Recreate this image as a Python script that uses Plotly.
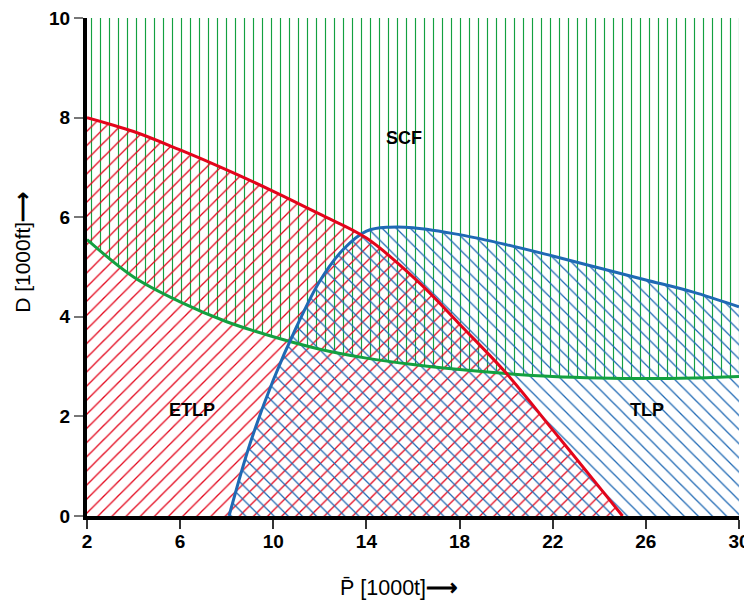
import plotly.graph_objects as go

# ETLP boundary (red)
red_x = [2, 4, 6, 8, 10, 12, 14, 16.3, 18, 20, 22, 24, 25.0]
red_y = [8.0, 7.72, 7.35, 6.95, 6.52, 6.06, 5.58, 4.67, 3.85, 2.87, 1.73, 0.58, 0.0]

# TLP boundary (blue)
blue_x = [8.1, 9, 10, 11, 12, 13, 14, 15, 16, 18, 20, 22, 24, 26, 28, 30]
blue_y = [0.0, 1.45, 2.73, 3.8, 4.72, 5.35, 5.72, 5.8, 5.79, 5.65, 5.45, 5.22, 4.98, 4.74, 4.5, 4.2]

# SCF lower boundary (green)
green_x = [2, 4, 6, 8, 10, 12, 14, 16, 18, 20, 22, 24, 26, 28, 30]
green_y = [5.55, 4.8, 4.3, 3.9, 3.6, 3.35, 3.17, 3.04, 2.94, 2.86, 2.8, 2.77, 2.76, 2.77, 2.8]

top_x = [2, 30]
top_y = [10, 10]

x_ticks = [2, 6, 10, 14, 18, 22, 26, 30]
y_ticks = [0, 2, 4, 6, 8, 10]

labels = ["SCF", "ETLP", "TLP"]
label_x = [15.6, 6.5, 26.05]
label_y = [7.6, 2.13, 2.13]

x_title = "P\u0304 [1000t]<b>\u27f6</b>"
y_title = "D [1000ft]<b>\u27f6</b>"

RED = "#e3051b"
BLUE = "#1f69b4"
GREEN = "#13a040"
CLEAR = "rgba(0,0,0,0)"
FONT = "Liberation Sans, Arial, Helvetica"
SOL = 0.13

fig = go.Figure()

# SCF hatched area (above green)
fig.add_trace(go.Scatter(x=top_x, y=top_y, mode="lines", line=dict(width=0), showlegend=False, hoverinfo="skip"))
fig.add_trace(go.Scatter(x=green_x, y=green_y, mode="lines", line=dict(width=0, shape="spline"),
                         fill="tonexty", fillcolor=CLEAR,
                         fillpattern=dict(shape="|", fgcolor=GREEN, bgcolor=CLEAR, fgopacity=1, size=9, solidity=SOL),
                         showlegend=False, hoverinfo="skip"))
# ETLP hatched area
fig.add_trace(go.Scatter(x=red_x, y=red_y, mode="lines", line=dict(width=0, shape="spline"),
                         fill="tozeroy", fillcolor=CLEAR,
                         fillpattern=dict(shape="/", fgcolor=RED, bgcolor=CLEAR, fgopacity=1, size=10, solidity=SOL),
                         showlegend=False, hoverinfo="skip"))
# TLP hatched area
fig.add_trace(go.Scatter(x=blue_x, y=blue_y, mode="lines", line=dict(width=0, shape="spline"),
                         fill="tozeroy", fillcolor=CLEAR,
                         fillpattern=dict(shape="\\", fgcolor=BLUE, bgcolor=CLEAR, fgopacity=1, size=10, solidity=SOL),
                         showlegend=False, hoverinfo="skip"))

# boundary lines
fig.add_trace(go.Scatter(x=green_x, y=green_y, mode="lines", line=dict(color=GREEN, width=3, shape="spline"), showlegend=False))
fig.add_trace(go.Scatter(x=blue_x, y=blue_y, mode="lines", line=dict(color=BLUE, width=3, shape="spline"), showlegend=False))
fig.add_trace(go.Scatter(x=red_x, y=red_y, mode="lines", line=dict(color=RED, width=3, shape="spline"), showlegend=False))

for t, xx, yy in zip(labels, label_x, label_y):
    fig.add_annotation(x=xx, y=yy, text="<b>%s</b>" % t, showarrow=False,
                       font=dict(family=FONT, size=18, color="black"))

# axis titles
fig.add_annotation(xref="paper", yref="paper", x=0.4785, y=-0.145, text=x_title, showarrow=False,
                   xanchor="center", yanchor="middle", font=dict(family=FONT, size=21.5, color="black"))
fig.add_annotation(xref="paper", yref="paper", x=-0.1, y=0.53, text=y_title, showarrow=False,
                   textangle=-90, xanchor="center", yanchor="middle", borderpad=0,
                   font=dict(family=FONT, size=21, color="black"))

# page has an 8px body margin; figure sized to fit the 752x601 window
fig.update_layout(
    width=744, height=593,
    margin=dict(l=79, r=13, t=10, b=85, autoexpand=False),
    paper_bgcolor="white", plot_bgcolor="white",
    font=dict(family=FONT, color="black"),
    showlegend=False,
)
fig.update_xaxes(range=[2, 30], tickvals=x_ticks, showgrid=False, zeroline=False, automargin=False,
                 showline=True, linecolor="black", linewidth=4,
                 ticks="outside", ticklen=9, tickwidth=1.5, tickcolor="#333",
                 ticklabeloverflow="allow", ticklabelstandoff=-4,
                 tickfont=dict(size=19, weight="bold"))
fig.update_yaxes(range=[0, 10], tickvals=y_ticks, showgrid=False, zeroline=False, automargin=False,
                 showline=True, linecolor="black", linewidth=4,
                 ticks="outside", ticklen=9, tickwidth=1.5, tickcolor="#777",
                 ticklabeloverflow="allow",
                 tickfont=dict(size=19, weight="bold"))

fig.write_html("out.html")
